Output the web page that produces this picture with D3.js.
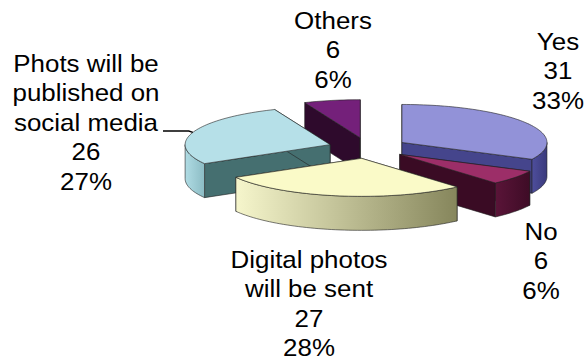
<!DOCTYPE html>
<html>
<head>
<meta charset="utf-8">
<script src="https://cdn.jsdelivr.net/npm/d3@7"></script>
<style>
  body { margin: 0; background: #fff; }
  svg { display: block; }
  text { font-family: "Liberation Sans", Arial, sans-serif; font-size: 24px; fill: #000; }
</style>
</head>
<body>
<svg></svg>
<script>
// Slice data, clockwise from 12 o'clock
const categories = ["Yes", "No", "Digital photos will be sent", "Phots will be published on social media", "Others"];
const counts = [31, 6, 27, 26, 6];
const percents = ["33%", "6%", "28%", "27%", "6%"];
const labelLines = [["Yes"], ["No"], ["Digital photos", "will be sent"], ["Phots will be", "published on", "social media"], ["Others"]];

// Colours: top face, radial cut face, outer wall gradient [left, right]
const topColors = ["#9292d8", "#9c2e68", "#fafac8", "#b6e0e8", "#74207a"];
const cutColors = ["#45458c", "#3a0b24", "#7c7c58", "#456f70", "#2e0a2c"];
const wallColors = [["#4e4e9c", "#3a3a7c"], ["#5a1438", "#3e0c26"], ["#f6f6cc", "#86865c"], ["#b0dce4", "#8cbcc4"], ["#3a0c38", "#2a0828"]];

const width = 585, height = 362;
const cx = 368, cy = 148, rx = 145, ry = 38, depth = 34, explode = 40;

const svg = d3.select("svg")
    .attr("width", width)
    .attr("height", height);

const defs = svg.append("defs");
wallColors.forEach((c, i) => {
    const g = defs.append("linearGradient").attr("id", "wall" + i)
        .attr("x1", "0%").attr("x2", "100%").attr("y1", "0%").attr("y2", "0%");
    g.append("stop").attr("offset", "0%").attr("stop-color", c[0]);
    g.append("stop").attr("offset", "100%").attr("stop-color", c[1]);
});

// Unit ellipse -> screen
const xScale = d3.scaleLinear().domain([-1, 1]).range([cx - rx, cx + rx]);
const yScale = d3.scaleLinear().domain([-1, 1]).range([cy + ry, cy - ry]);

const pie = d3.pie().sort(null).value(d => d)(counts);
const e = explode / rx;

const slices = pie.map((p, i) => {
    const mid = (p.startAngle + p.endAngle) / 2;
    return { i, a0: p.startAngle, a1: p.endAngle, mid, ox: e * Math.sin(mid), oy: e * Math.cos(mid) };
});

function pt(s, a, r, z) {
    return [xScale(s.ox + r * Math.sin(a)), yScale(s.oy + r * Math.cos(a)) + z];
}
function arcPts(s, a0, a1, z) {
    const n = Math.max(2, Math.ceil((a1 - a0) / 0.03));
    return d3.range(n + 1).map(k => pt(s, a0 + (a1 - a0) * k / n, 1, z));
}
const line = d3.line().curve(d3.curveLinear);

const pieGroup = svg.append("g");

// back to front
const order = slices.slice().sort((a, b) => Math.cos(b.mid) - Math.cos(a.mid));

order.forEach(s => {
    const g = pieGroup.append("g");
    // radial cut faces
    [s.a0, s.a1].forEach(a => {
        const face = [pt(s, a, 0, 0), pt(s, a, 1, 0), pt(s, a, 1, depth), pt(s, a, 0, depth)];
        g.append("path")
            .attr("d", line(face) + "Z")
            .attr("fill", cutColors[s.i])
            .attr("stroke", "#222")
            .attr("stroke-width", 0.6);
    });
    // outer wall, front part only
    const w0 = Math.max(s.a0, Math.PI / 2), w1 = Math.min(s.a1, 3 * Math.PI / 2);
    if (w1 > w0) {
        const pts = arcPts(s, w0, w1, 0).concat(arcPts(s, w0, w1, depth).reverse());
        g.append("path")
            .attr("d", line(pts) + "Z")
            .attr("fill", `url(#wall${s.i})`)
            .attr("stroke", "#222")
            .attr("stroke-width", 0.6);
    }
    // top face
    const top = [pt(s, 0, 0, 0)].concat(arcPts(s, s.a0, s.a1, 0));
    g.append("path")
        .attr("d", line(top) + "Z")
        .attr("fill", topColors[s.i])
        .attr("stroke", "#222")
        .attr("stroke-width", 0.6);
});

// Labels
const labelPos = [[558, 50], [541, 240], [309, 268], [86, 72], [333, 29]];
const lineH = 29.5;

slices.forEach(s => {
    const lines = labelLines[s.i].concat([String(counts[s.i]), percents[s.i]]);
    const g = svg.append("g")
        .attr("transform", `translate(${labelPos[s.i][0]},${labelPos[s.i][1]}) scale(1.08,1)`);
    g.selectAll("text")
        .data(lines)
        .enter()
        .append("text")
        .attr("x", 0)
        .attr("y", (d, k) => k * lineH)
        .attr("text-anchor", "middle")
        .text(d => d);
});

// Leader line for the social media label
const ph = slices[3];
const end = pt(ph, ph.mid, 1, 0);
svg.append("path")
    .attr("d", line([[163, 131], [end[0] - 4, 131], end]))
    .attr("fill", "none")
    .attr("stroke", "#000")
    .attr("stroke-width", 1.4);
</script>
</body>
</html>
